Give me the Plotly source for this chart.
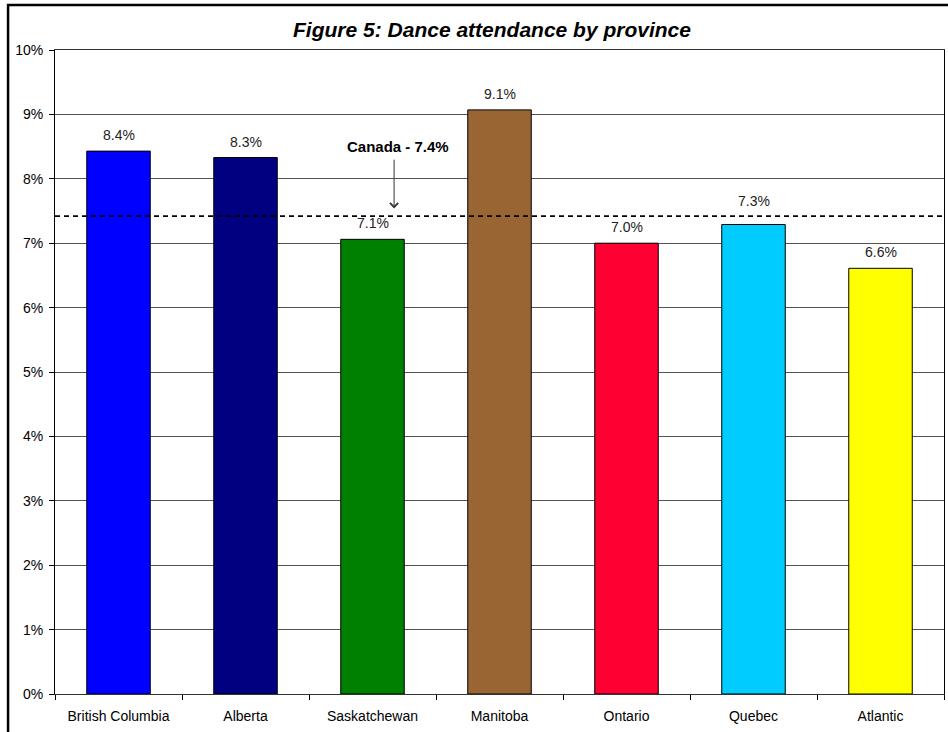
import plotly.graph_objects as go

provinces = ["British Columbia", "Alberta", "Saskatchewan", "Manitoba", "Ontario", "Quebec", "Atlantic"]
attendance = [8.43, 8.33, 7.06, 9.07, 7.00, 7.29, 6.61]
bar_colors = ["#0000FF", "#000080", "#008000", "#996633", "#FF0033", "#00CCFF", "#FFFF00"]
canada_value = 7.42
y_ticks = [0, 1, 2, 3, 4, 5, 6, 7, 8, 9, 10]
y_tick_labels = [f"{v}%" for v in y_ticks]

FONT = "Liberation Sans, Arial, sans-serif"

fig = go.Figure()
fig.add_trace(go.Bar(
    x=provinces,
    y=attendance,
    marker=dict(color=bar_colors, line=dict(color="#000000", width=1)),
    width=0.5,
    hoverinfo="skip",
))

# data labels (moved up when they would collide with the Canada line)
for cat, v in zip(provinces, attendance):
    shift = 16
    if 0 < canada_value - v < 0.2:
        shift = 24
    fig.add_annotation(x=cat, y=v, xref="x", yref="y", text=f"{v:.1f}%",
                       showarrow=False, yanchor="middle", yshift=shift,
                       font=dict(family=FONT, size=14, color="#222222"))

# Canada average dashed line
fig.add_shape(type="line", xref="paper", yref="y", x0=0, x1=1,
              y0=canada_value, y1=canada_value,
              line=dict(color="#000000", width=1.7, dash="5px,4px"))

fig.add_annotation(
    x=2.17, y=canada_value + 0.12, xref="x", yref="y",
    ax=2.17, ay=canada_value + 0.9, axref="x", ayref="y",
    text="", showarrow=True, arrowhead=4, arrowsize=1.6, arrowwidth=1,
    arrowcolor="#333333",
)
fig.add_annotation(
    x=2.2, y=canada_value + 0.92, xref="x", yref="y",
    text=f"<b>Canada - {canada_value:.1f}%</b>", showarrow=False,
    yanchor="bottom",
    font=dict(family=FONT, size=15, color="#000000"),
)

# outer frame
fig.add_shape(type="rect", xref="paper", yref="paper",
              x0=-0.0528, x1=1.2, y0=-0.2, y1=1.0698,
              line=dict(color="#000000", width=2.5), fillcolor="rgba(0,0,0,0)", layer="below")

fig.update_layout(
    width=948, height=732,
    margin=dict(l=55, r=4, t=50, b=38, autoexpand=False),
    paper_bgcolor="white", plot_bgcolor="white",
    showlegend=False,
    title=dict(text="<b><i>Figure 5: Dance attendance by province</i></b>",
               x=0.519, xanchor="center", y=0.959, yanchor="middle",
               font=dict(family=FONT, size=21, color="#000000")),
)
fig.update_xaxes(
    showline=True, linecolor="#333333", linewidth=1, mirror=True,
    ticks="outside", ticklen=5, tickcolor="#000000",
    tickson="boundaries", ticklabelstandoff=9,
    tickfont=dict(family=FONT, size=14, color="#000000"),
    showgrid=False,
)
fig.update_yaxes(
    range=[0, 10],
    tickvals=y_ticks, ticktext=y_tick_labels,
    showline=True, linecolor="#000000", linewidth=1, mirror=True,
    ticks="outside", ticklen=5, tickcolor="#000000", ticklabelstandoff=3,
    showgrid=True, gridcolor="#555555", gridwidth=1,
    zeroline=False,
    tickfont=dict(family=FONT, size=14, color="#000000"),
)

fig.write_html("out.html")
